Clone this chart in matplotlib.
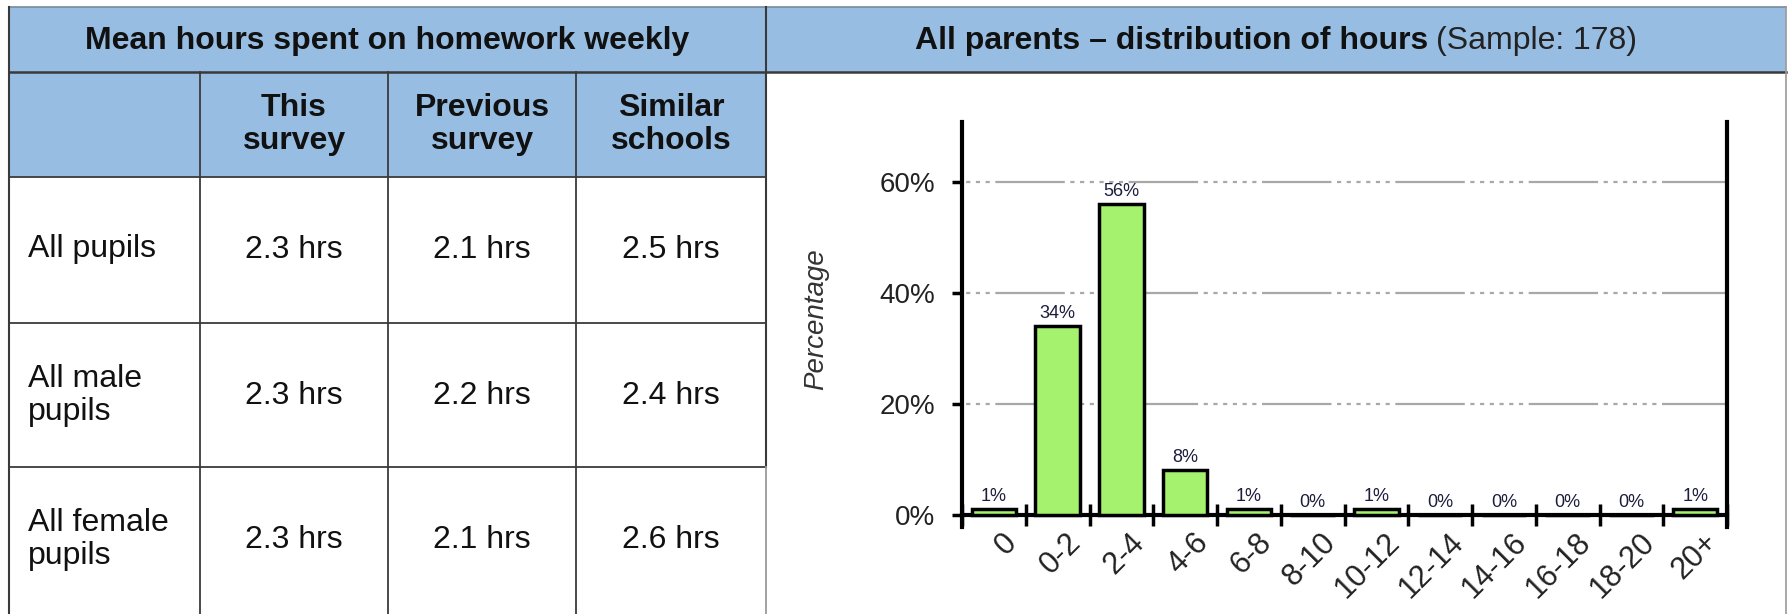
import numpy as np
import matplotlib
matplotlib.use('Agg')
import matplotlib.pyplot as plt
from matplotlib.patches import Rectangle
from matplotlib.transforms import ScaledTranslation

plt.rcParams['font.family'] = ['Liberation Sans', 'DejaVu Sans']
plt.rcParams['lines.scale_dashes'] = False

# Table: mean hours per week
row_labels = ['All pupils', 'All male\npupils', 'All female\npupils']
col_labels = ['This\nsurvey', 'Previous\nsurvey', 'Similar\nschools']
this_survey = [2.3, 2.3, 2.3]
previous_survey = [2.1, 2.2, 2.1]
similar_schools = [2.5, 2.4, 2.6]

# Chart: distribution of hours (all parents)
hour_bands = ['0', '0-2', '2-4', '4-6', '6-8', '8-10', '10-12',
              '12-14', '14-16', '16-18', '18-20', '20+']
percentages = [1, 34, 56, 8, 1, 0, 1, 0, 0, 0, 0, 1]
sample_size = 178

W, H = 1788, 614
BLUE = '#97bde3'
GREEN = '#a5f26e'
LINE = '#3a3a3a'
TXT = '#111111'

fig = plt.figure(figsize=(W / 100, H / 100), dpi=100)

# page layer in pixel coordinates (y down)
bg = fig.add_axes([0, 0, 1, 1])
bg.set_xlim(0, W)
bg.set_ylim(H, 0)
bg.axis('off')

col_x = [9, 200, 388, 576, 766]
row_y = [7, 72, 177, 323, 467, H]
right_x = 1786

# blue header fills
bg.add_patch(Rectangle((col_x[0], row_y[0]), right_x - col_x[0], row_y[1] - row_y[0],
                       facecolor=BLUE, edgecolor='none'))
bg.add_patch(Rectangle((col_x[0], row_y[1]), col_x[-1] - col_x[0], row_y[2] - row_y[1],
                       facecolor=BLUE, edgecolor='none'))

# grid lines of the table
bg.plot([col_x[0], right_x], [row_y[0]] * 2, color='#7a8a9a', lw=1.2)
bg.plot([col_x[0], right_x], [row_y[1]] * 2, color=LINE, lw=1.8)
for y in row_y[2:5]:
    bg.plot([col_x[0], col_x[-1]], [y, y], color=LINE, lw=1.3)
bg.plot([col_x[0]] * 2, [row_y[0], H], color=LINE, lw=1.5)
for x in col_x[1:4]:
    bg.plot([x, x], [row_y[1], H], color=LINE, lw=1.3)
bg.plot([col_x[-1]] * 2, [row_y[0], row_y[4]], color=LINE, lw=1.5)
bg.plot([col_x[-1]] * 2, [row_y[4], H], color='#9a9a9a', lw=1.3)
bg.plot([right_x] * 2, [row_y[0], H], color='#9a9a9a', lw=1.2)

# table texts
bg.text((col_x[0] + col_x[-1]) / 2, (row_y[0] + row_y[1]) / 2 + 1,
        'Mean hours spent on homework weekly', ha='center', va='center',
        fontsize=23, fontweight='bold', color=TXT)
for i, lab in enumerate(col_labels):
    bg.text((col_x[i + 1] + col_x[i + 2]) / 2, (row_y[1] + row_y[2]) / 2, lab,
            ha='center', va='center', fontsize=23, fontweight='bold', color=TXT,
            linespacing=1.15)
columns = [this_survey, previous_survey, similar_schools]
for r, lab in enumerate(row_labels):
    yc = (row_y[r + 2] + row_y[r + 2] + 145) / 2
    bg.text(28, yc, lab, ha='left', va='center', fontsize=23, color=TXT,
            linespacing=1.15)
    for c, vals in enumerate(columns):
        bg.text((col_x[c + 1] + col_x[c + 2]) / 2, yc, f'{vals[r]} hrs',
                ha='center', va='center', fontsize=23, color=TXT)

# right panel title: bold part + regular part, centred together
t1 = bg.text(0, (row_y[0] + row_y[1]) / 2 + 1, 'All parents \u2013 distribution of hours',
             ha='left', va='center', fontsize=23, fontweight='bold', color=TXT)
t2 = bg.text(0, (row_y[0] + row_y[1]) / 2 + 1, f'(Sample: {sample_size})',
             ha='left', va='center', fontsize=23, color='#222222')

# chart
ax = fig.add_axes([962 / W, 87 / H, 765 / W, 405 / H])
x = np.arange(len(hour_bands))
ax.grid(axis='y', color='#a8a8a8', lw=1.6,
        linestyle=(72, (50, 4, 3, 4, 3, 4, 3, 4, 3, 4, 3, 4, 3, 4)), zorder=0)
bars = ax.bar(x, percentages, width=0.7, color=GREEN, edgecolor='black',
              linewidth=2.5, zorder=3)
ax.bar_label(bars, labels=[f'{v}%' for v in percentages], padding=3,
             fontsize=13, color='#1c1c3c')
ax.set_xlim(-0.5, len(hour_bands) - 0.5)
ax.set_ylim(-2.2, 70.8)
ax.spines['bottom'].set_position(('data', 0))
ax.spines['top'].set_visible(False)
for s in ['left', 'right', 'bottom']:
    ax.spines[s].set_linewidth(3)
ax.set_yticks([0, 20, 40, 60])
ax.set_yticklabels([f'{v}%' for v in [0, 20, 40, 60]])
ax.tick_params(axis='y', direction='out', length=7, width=2.5, pad=12,
               labelsize=20, labelcolor='#222222')
ax.set_xticks(np.arange(-0.5, len(hour_bands), 1))
ax.set_xticklabels([])
ax.tick_params(axis='x', which='major', direction='inout', length=16, width=2.5)
ax.set_xticks(x, minor=True)
ax.set_xticklabels(hour_bands, minor=True, rotation=45, ha='right',
                   va='top', rotation_mode='anchor')
ax.tick_params(axis='x', which='minor', length=0, pad=9, labelsize=22,
               labelcolor='#222222')
shift = ScaledTranslation(8 / 100, 0, fig.dpi_scale_trans)
for lab in ax.get_xticklabels(minor=True):
    lab.set_transform(lab.get_transform() + shift)
ax.set_ylabel('Percentage', style='italic', fontsize=20, color='#333333')
ax.yaxis.set_label_coords(-0.174, 0.514)

fig.canvas.draw()
rend = fig.canvas.get_renderer()
w1 = t1.get_window_extent(rend).width
w2 = t2.get_window_extent(rend).width
gap = 8
start = (col_x[-1] + right_x) / 2 - (w1 + gap + w2) / 2
t1.set_x(start)
t2.set_x(start + w1 + gap)

fig.savefig('out.png', dpi=100)
